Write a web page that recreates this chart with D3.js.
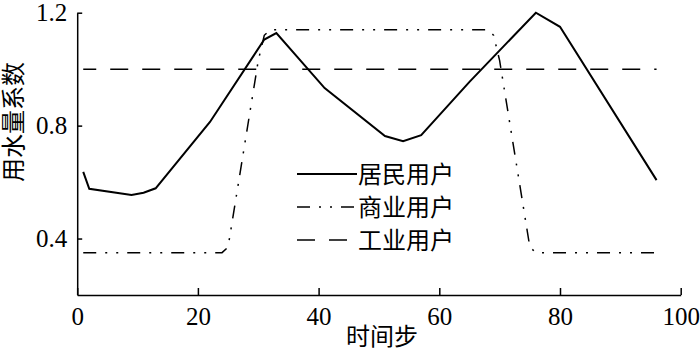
<!DOCTYPE html>
<html>
<head>
<meta charset="utf-8">
<script src="https://cdn.jsdelivr.net/npm/d3@7/dist/d3.min.js"></script>
<style>
  html, body { margin: 0; padding: 0; background: #fff; }
  svg { display: block; }
  text { font-family: "Liberation Serif", "Noto Sans CJK SC", serif; fill: #000; }
</style>
</head>
<body>
<svg id="chart" width="700" height="357"></svg>
<script>
// ---- data ----
const residentialX = [1, 2, 9, 11, 13, 22, 31, 33, 41, 51, 54, 57, 65, 76, 80, 96];
const residentialY = [0.636, 0.576, 0.554, 0.562, 0.578, 0.813, 1.105, 1.128, 0.933, 0.763, 0.745, 0.766, 0.955, 1.2, 1.15, 0.607];

const commercialX = [1, 24, 25, 30, 31, 32, 68, 69, 70, 75, 76, 96];
const commercialY = [0.35, 0.35, 0.37, 1.03, 1.12, 1.14, 1.14, 1.12, 1.03, 0.37, 0.35, 0.35];

const industrialX = [1, 96];
const industrialY = [1.0, 1.0];

const xTicks = [0, 20, 40, 60, 80, 100];
const yTicks = [0.4, 0.8, 1.2];
const seriesNames = ["居民用户", "商业用户", "工业用户"];
const xTitle = "时间步";
const yTitle = "用水量系数";

// ---- layout ----
const svg = d3.select("#chart");
const x = d3.scaleLinear().domain([0, 100]).range([77.2, 680.7]);
const y = d3.scaleLinear().domain([0.2, 1.2]).range([295, 12.7]);

const styles = [
  { width: 2, dash: null },
  { width: 1.5, dash: "13,9,2,9,2,9" },
  { width: 1.5, dash: "18,14", offset: 5 }
];

const line = d3.line().x(d => x(d[0])).y(d => y(d[1]));
const series = [
  d3.zip(residentialX, residentialY),
  d3.zip(commercialX, commercialY),
  d3.zip(industrialX, industrialY)
];

series.forEach((pts, i) => {
  svg.append("path")
    .attr("d", line(pts))
    .attr("fill", "none")
    .attr("stroke", "#000")
    .attr("stroke-width", styles[i].width)
    .attr("stroke-linejoin", "miter")
    .attr("stroke-dasharray", styles[i].dash)
    .attr("stroke-dashoffset", styles[i].offset || 0);
});

// ---- axes ----
const xAxis = d3.axisBottom(x).tickValues(xTicks).tickSizeInner(-7).tickSizeOuter(0).tickPadding(12).tickFormat(d3.format("d"));
const gx = svg.append("g").attr("transform", `translate(0,${y(0.2)})`).call(xAxis);
gx.select(".domain").attr("stroke-width", 1.5);
gx.selectAll(".tick line").attr("stroke-width", 1.5);
gx.selectAll(".tick text").attr("font-size", 25).attr("font-family", "Liberation Serif").attr("dy", "0.71em");

const yAxis = d3.axisLeft(y).tickValues(yTicks).tickSizeInner(-5).tickSizeOuter(0).tickPadding(10).tickFormat(d3.format(".1f"));
const gy = svg.append("g").attr("transform", `translate(${x(0)},0)`).call(yAxis);
gy.select(".domain").attr("stroke-width", 1.5);
gy.selectAll(".tick line").attr("stroke-width", 1.5);
gy.selectAll(".tick text").attr("font-size", 25).attr("font-family", "Liberation Serif");

// axis titles
svg.append("text")
  .attr("x", 382).attr("y", 345)
  .attr("text-anchor", "middle")
  .attr("font-size", 24)
  .attr("font-family", "Noto Sans CJK SC")
  .text(xTitle);

svg.append("text")
  .attr("transform", "translate(22,122) rotate(-90)")
  .attr("text-anchor", "middle")
  .attr("font-size", 24)
  .attr("font-family", "Noto Sans CJK SC")
  .text(yTitle);

// ---- legend ----
const legendY = [174, 207, 240];
seriesNames.forEach((name, i) => {
  svg.append("line")
    .attr("x1", 297).attr("x2", 357)
    .attr("y1", legendY[i]).attr("y2", legendY[i])
    .attr("stroke", "#000")
    .attr("stroke-width", styles[i].width)
    .attr("stroke-dasharray", styles[i].dash);
  svg.append("text")
    .attr("x", 358).attr("y", legendY[i])
    .attr("dy", "0.36em")
    .attr("font-size", 24)
    .attr("font-family", "Noto Sans CJK SC")
    .text(name);
});
</script>
</body>
</html>
